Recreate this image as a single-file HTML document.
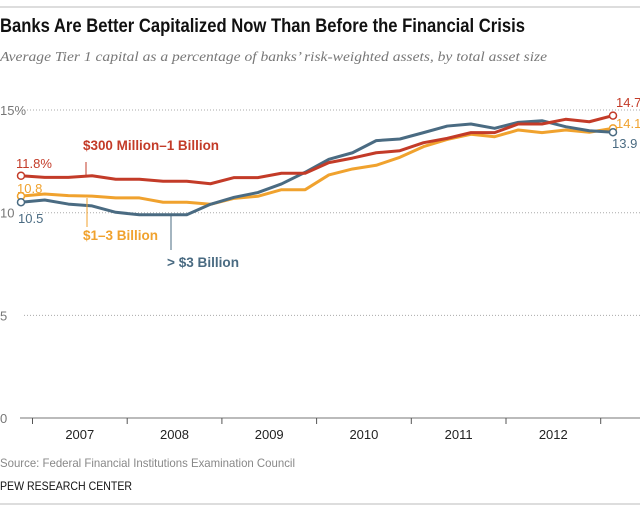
<!DOCTYPE html>
<html><head><meta charset="utf-8"><style>
body{margin:0;background:#fff;}
svg{display:block;font-family:"Liberation Sans",sans-serif;}
</style></head><body>
<svg width="640" height="512" viewBox="0 0 640 512">
<line x1="0" y1="7" x2="640" y2="7" stroke="#bbb" stroke-width="1"/>
<text x="0" y="32" font-size="19" font-weight="bold" fill="#111" textLength="525" lengthAdjust="spacingAndGlyphs">Banks Are Better Capitalized Now Than Before the Financial Crisis</text>
<text x="0" y="61" font-size="14" font-style="italic" fill="#777" font-family="Liberation Serif, serif" textLength="547" lengthAdjust="spacingAndGlyphs">Average Tier 1 capital as a percentage of banks’ risk-weighted assets, by total asset size</text>
<g id="grid"></g>
<g id="xaxis"></g>
<g id="series"></g>
<text x="0" y="467" font-size="12" fill="#888" textLength="295" lengthAdjust="spacingAndGlyphs">Source: Federal Financial Institutions Examination Council</text>
<text x="0" y="490" font-size="12" fill="#111" textLength="132" lengthAdjust="spacingAndGlyphs">PEW RESEARCH CENTER</text>
<line x1="0" y1="504" x2="640" y2="504" stroke="#bbb" stroke-width="1"/>
</svg>
<script>
const years=["2007","2008","2009","2010","2011","2012"];
const yTicks=[0,5,10,15];
const yTickLabels=["0","5","10","15%"];
const red=[11.80,11.72,11.72,11.80,11.63,11.63,11.53,11.53,11.41,11.71,11.71,11.92,11.92,12.44,12.66,12.92,13.02,13.41,13.62,13.90,13.90,14.32,14.32,14.55,14.43,14.73];
const orange=[10.81,10.91,10.83,10.81,10.72,10.72,10.51,10.51,10.41,10.70,10.80,11.12,11.12,11.84,12.13,12.31,12.70,13.22,13.57,13.82,13.70,14.03,13.90,14.03,13.92,14.11];
const blue=[10.51,10.62,10.42,10.33,10.02,9.90,9.90,9.90,10.41,10.75,10.98,11.40,11.97,12.60,12.92,13.51,13.59,13.90,14.22,14.32,14.11,14.40,14.48,14.19,13.99,13.92];
const NS="http://www.w3.org/2000/svg";
const y=v=>418-v*20.53;
const x=i=>21+i*23.68;
const xt=i=>32.5+i*94.7;
function mk(tag,attrs,parent,txt){const e=document.createElementNS(NS,tag);for(const k in attrs)e.setAttribute(k,attrs[k]);if(txt!==undefined)e.textContent=txt;parent.appendChild(e);return e;}
const grid=document.getElementById('grid'),xa=document.getElementById('xaxis'),ser=document.getElementById('series');
yTicks.forEach((t,i)=>{
 if(t>0){const l=mk('line',{x1:24,x2:640,y1:y(t),y2:y(t),stroke:'#aaa','stroke-dasharray':'1,2'},grid);
 
 }
 const tx=mk('text',{x:0,y:y(t)+5,'font-size':13,fill:'#777'},grid,yTickLabels[i]);
 
 
});
const ax=mk('line',{x1:20,x2:640,y1:y(0),y2:y(0),stroke:'#777','stroke-width':1},xa);


for(let i=0;i<=years.length;i++){
 const tk=mk('line',{x1:xt(i),x2:xt(i),y1:y(0),y2:y(0)+6,stroke:'#555'},xa);
 
 
}
years.forEach((yr,i)=>{
 const t=mk('text',{x:xt(i)+47.3,y:439,'font-size':13,fill:'#222','text-anchor':'middle'},xa,yr);
 
 
});
function line(data,color,name){
 const p=mk('polyline',{points:data.map((v,i)=>x(i)+','+y(v)).join(' '),fill:'none',stroke:color,'stroke-width':3,'stroke-linejoin':'round'},ser);
 
 
 [0,data.length-1].forEach(i=>{
  const c=mk('circle',{cx:x(i),cy:y(data[i]),r:3.5,fill:'#fff',stroke:color,'stroke-width':1.5},ser);
  
  
 });
}
line(orange,'#f0a22e','orange');
line(blue,'#4a6b82','blue');
line(red,'#c33b28','red');
function lab(tx,lx,ly,color,size,bold,name,w){
 const a={x:lx,y:ly,'font-size':size,fill:color,'font-weight':bold?'bold':'normal'};
 if(w){a.textLength=w;a.lengthAdjust='spacingAndGlyphs';}
 const t=mk('text',a,ser,tx);
 
 
}
lab(red[0].toFixed(1)+'%',16,168,'#c33b28',13,false,'red-start-label');
lab(orange[0].toFixed(1),17,193,'#f0a22e',13,false,'orange-start-label');
lab(blue[0].toFixed(1),18,223,'#4a6b82',13,false,'blue-start-label');
lab(red[25].toFixed(1),616,107,'#c33b28',13,false,'red-end-label');
lab(orange[25].toFixed(1),616,128,'#f0a22e',13,false,'orange-end-label');
lab(blue[25].toFixed(1),612,148,'#4a6b82',13,false,'blue-end-label');
function leader(x1,y1,y2,color,name){const l=mk('line',{x1:x1,x2:x1,y1:y1,y2:y2,stroke:color,'stroke-width':1},ser);
 
 }
leader(86,162,176,'#c33b28','red-leader');
leader(87,198,227,'#f0a22e','orange-leader');
leader(171,215,250,'#4a6b82','blue-leader');
lab('$300 Million–1 Billion',83,150,'#c33b28',14,true,'red-series-label',136);
lab('$1–3 Billion',83,240,'#f0a22e',14,true,'orange-series-label',75);
lab('> $3 Billion',167,267,'#4a6b82',14,true,'blue-series-label',72);
</script>
</body></html>
